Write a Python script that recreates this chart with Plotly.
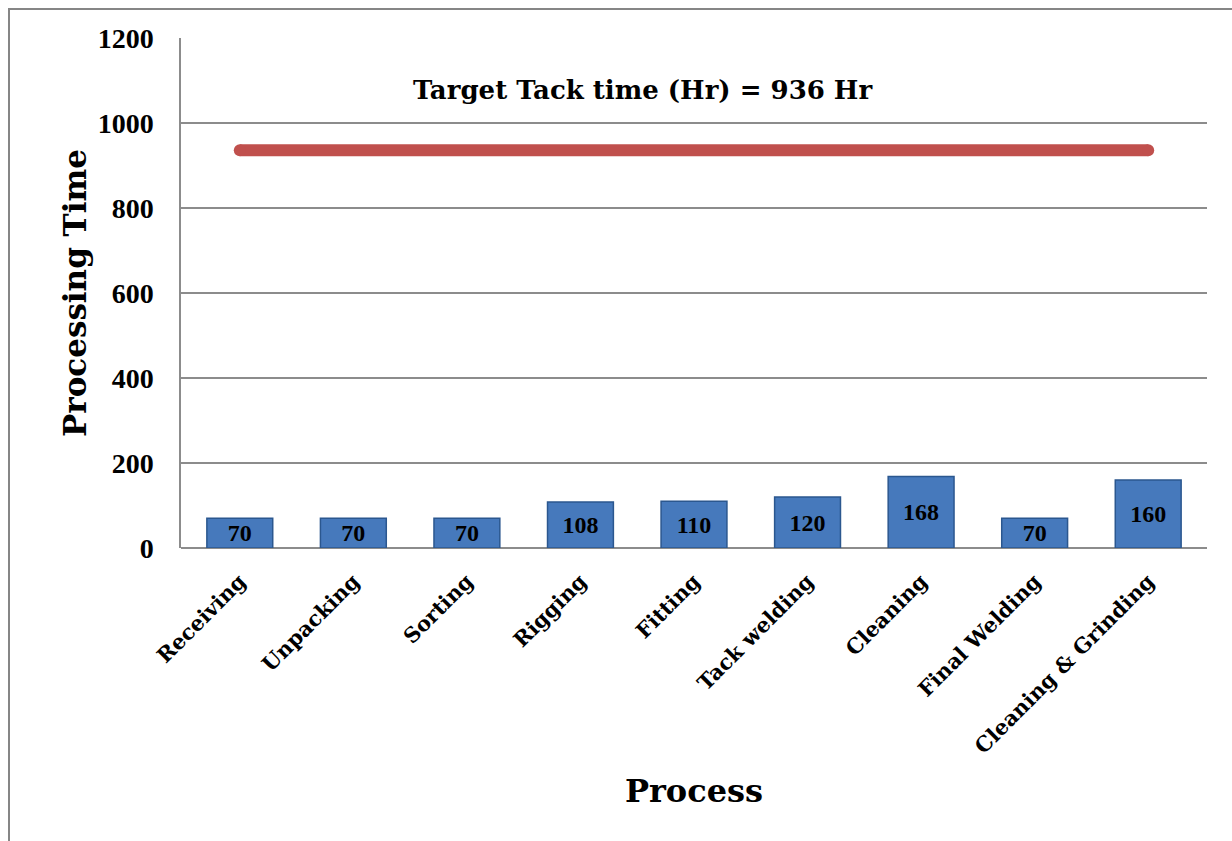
import plotly.graph_objects as go

processes = ["Receiving", "Unpacking", "Sorting", "Rigging", "Fitting",
             "Tack welding", "Cleaning", "Final Welding", "Cleaning & Grinding"]
processing_time = [70, 70, 70, 108, 110, 120, 168, 70, 160]
target_tack_time = 936
y_ticks = [0, 200, 400, 600, 800, 1000, 1200]

TEXT_FONT = "DejaVu Serif"
NUM_FONT = "Liberation Serif"
W, H = 1232, 841
L, R, T, B = 181, 25, 38, 293
pw, ph = W - L - R, H - T - B


def px_to_paper_x(px):
    return (px - L) / pw


def px_to_paper_y(py):
    return (H - B - py) / ph


fig = go.Figure()

fig.add_trace(go.Bar(
    x=processes,
    y=processing_time,
    text=[str(v) for v in processing_time],
    textposition="inside",
    insidetextanchor="middle",
    textangle=0,
    constraintext="none",
    textfont=dict(family=NUM_FONT, size=24, color="black", weight="bold"),
    marker=dict(color="#4679BC", line=dict(color="#2B578F", width=1.5)),
    showlegend=False,
    hoverinfo="skip",
))

# Target tack time line across the first to last process
fig.add_trace(go.Scatter(
    x=[processes[0], processes[-1]],
    y=[target_tack_time, target_tack_time],
    mode="lines+markers",
    line=dict(color="#C0504D", width=12),
    marker=dict(color="#C0504D", size=12, symbol="circle"),
    showlegend=False,
    hoverinfo="skip",
))

fig.add_annotation(
    text=f"Target Tack time (Hr) = {target_tack_time} Hr",
    xref="paper", yref="paper",
    x=px_to_paper_x(642), y=px_to_paper_y(90),
    xanchor="center", yanchor="middle",
    showarrow=False,
    font=dict(family=TEXT_FONT, size=26, color="black", weight="bold"),
)

# Chart frame
fig.add_shape(
    type="rect", xref="paper", yref="paper",
    x0=px_to_paper_x(9), x1=px_to_paper_x(1245),
    y0=px_to_paper_y(860), y1=px_to_paper_y(9),
    line=dict(color="#868686", width=2),
    fillcolor="rgba(0,0,0,0)",
    layer="below",
)

fig.update_layout(
    width=W, height=H,
    margin=dict(l=L, r=R, t=T, b=B),
    paper_bgcolor="white",
    plot_bgcolor="white",
    bargap=0.42,
    font=dict(family=TEXT_FONT, color="black"),
    xaxis=dict(
        tickangle=-45,
        tickfont=dict(family=TEXT_FONT, size=21, color="black", weight="bold"),
        showgrid=False,
        showline=False,
        ticks="",
        ticklabelstandoff=16,
        title=dict(text="Process", font=dict(family=TEXT_FONT, size=32, color="black", weight="bold"),
                   standoff=22),
    ),
    yaxis=dict(
        range=[0, 1200],
        tickvals=y_ticks,
        tickfont=dict(family=NUM_FONT, size=28, color="black", weight="bold"),
        showgrid=True,
        gridcolor="#8C8C8C",
        gridwidth=1.5,
        showline=True,
        linecolor="#8C8C8C",
        linewidth=1.5,
        zeroline=True,
        zerolinecolor="#8C8C8C",
        zerolinewidth=2,
        ticks="",
        ticklabelstandoff=20,
        title=dict(text="Processing Time", font=dict(family=TEXT_FONT, size=31, color="black", weight="bold"),
                   standoff=2),
    ),
)

fig.write_html("out.html")
